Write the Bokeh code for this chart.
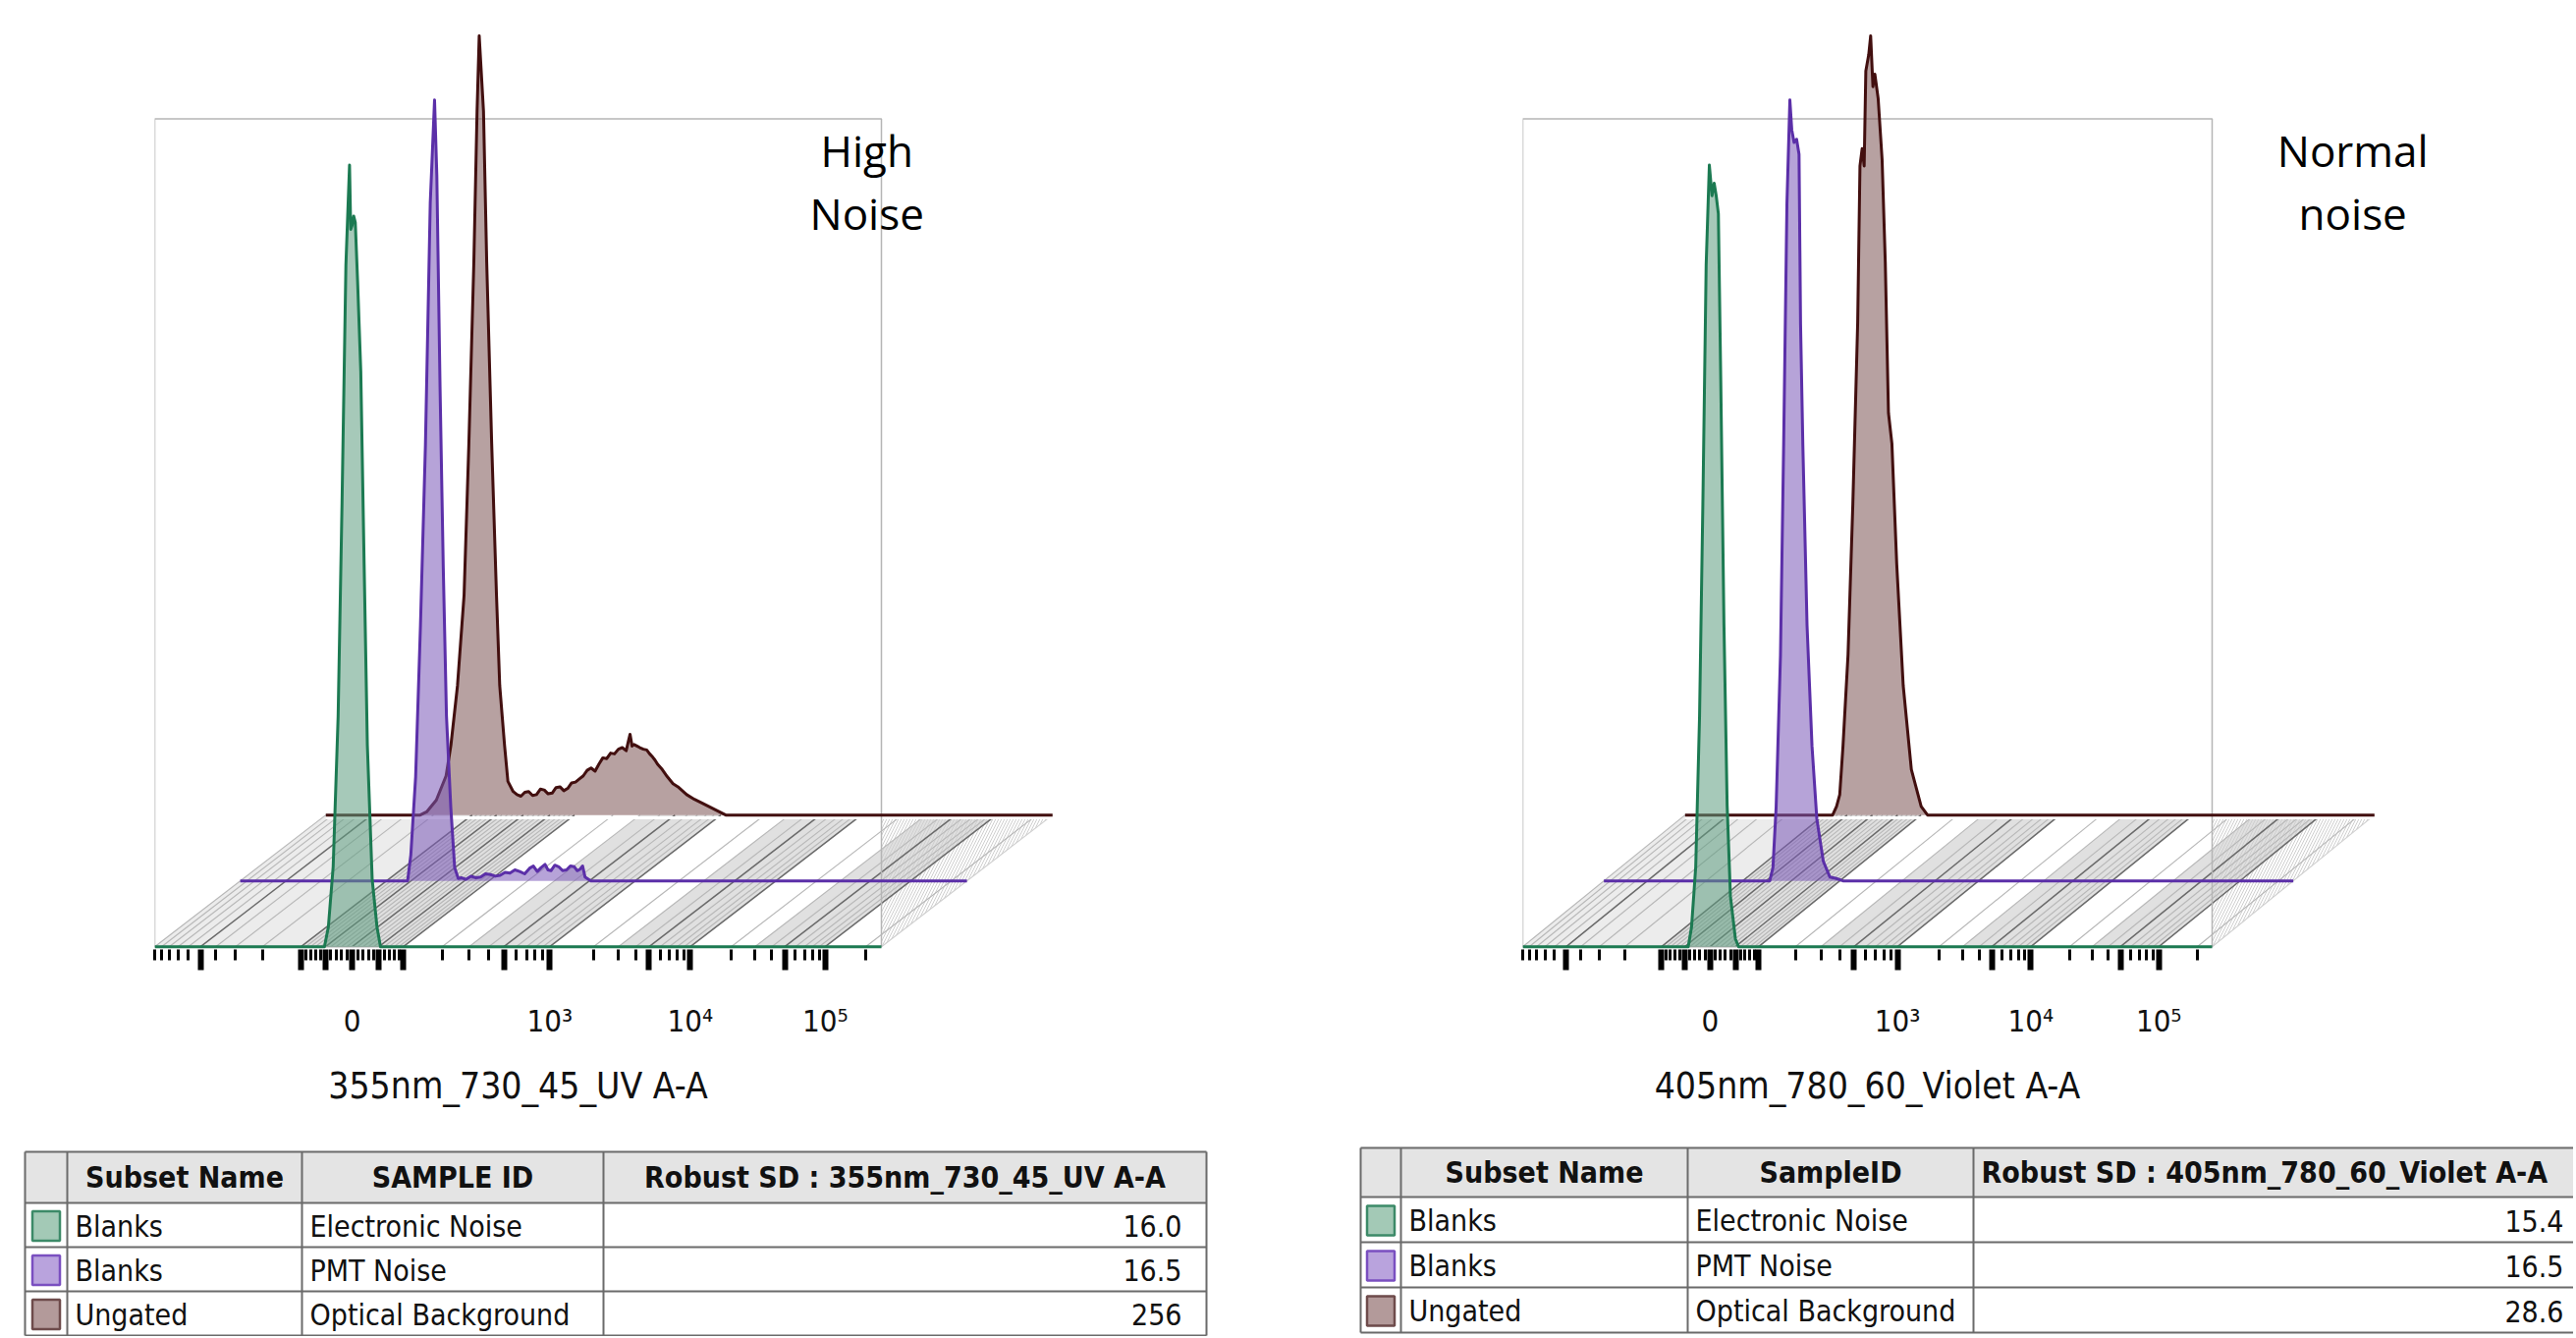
import numpy as np
from bokeh.plotting import figure
from bokeh.models import Range1d, FixedTicker, Label, LinearAxis
from bokeh.layouts import column, row
from bokeh.embed import file_html
from bokeh.resources import INLINE
from bokeh.core.properties import value

# ------------------------------------------------------------------ data
# x axis: FlowJo-style logicle (biexponential) scale, in fluorescence units
AXIS_MIN = -1000
AXIS_MAX = 262144
LOGICLE_P = 2.63
LOGICLE_K = 29.65
MAJOR_TICKS = [-500, -100, -50, 0, 50, 100, 500, 1000, 5000, 10000, 50000, 100000]
MINOR_TICKS = [-1000, -900, -800, -700, -600, -400, -300, -200,
               -90, -80, -70, -60, -40, -30, -20, -10, 10, 20, 30, 40, 60, 70, 80, 90,
               200, 300, 400, 600, 700, 800, 900,
               2000, 3000, 4000, 6000, 7000, 8000, 9000,
               20000, 30000, 40000, 60000, 70000, 80000, 90000, 200000]
TICK_LABELS = {0: "0", 1000: "10³", 10000: "10⁴", 100000: "10⁵"}
FLOOR_BANDS = [(-1000, -100), (-100, 100), (300, 1000), (3000, 10000), (30000, 100000)]

SUBSET_NAMES = ["Blanks", "Blanks", "Ungated"]
SAMPLE_IDS = ["Electronic Noise", "PMT Noise", "Optical Background"]
ROBUST_SD_355 = ["16.0", "16.5", "256"]
ROBUST_SD_405 = ["15.4", "16.5", "28.6"]
HEADERS_355 = ["Subset Name", "SAMPLE ID", "Robust SD : 355nm_730_45_UV A-A"]
HEADERS_405 = ["Subset Name", "SampleID", "Robust SD : 405nm_780_60_Violet A-A"]
AXIS_TITLE_355 = "355nm_730_45_UV A-A"
AXIS_TITLE_405 = "405nm_780_60_Violet A-A"

# histogram traces: x in display decades of the axis (0 = zero), y in % of mode
hi_electronic_x = [-0.207, -0.178, -0.142, -0.105, -0.076, -0.047, -0.020, -0.011, -0.001,
                   0.011, 0.023, 0.040, 0.064, 0.089, 0.113, 0.149, 0.185, 0.211]
hi_electronic_y = [0, 2.5, 10.2, 29.4, 56.5, 87.0, 99.7, 91.5, 92.0,
                   93.2, 92.4, 85.0, 73.4, 48.7, 25.7, 8.6, 2.5, 0]

hi_pmt_x = [-0.225, -0.201, -0.165, -0.129, -0.092, -0.056, -0.024, -0.007, 0.017, 0.041,
            0.065, 0.097, 0.126, 0.153, 0.175, 0.211, 0.247, 0.284, 0.320, 0.356,
            0.393, 0.429, 0.465, 0.502, 0.538, 0.575, 0.611, 0.648, 0.684, 0.713,
            0.742, 0.771, 0.800, 0.822, 0.844, 0.873, 0.902, 0.931, 0.960, 0.989,
            1.018, 1.040, 1.062, 1.080, 1.098, 1.142]
hi_pmt_y = [0, 3.3, 13.3, 32.6, 55.6, 86.5, 99.6, 90.0, 63.0, 40.0,
            21.0, 9.4, 1.7, 0.3, 0.4, 0.2, 0.6, 0.4, 0.5, 0.9,
            0.8, 0.6, 0.7, 1.1, 1.0, 1.4, 1.2, 0.9, 1.6, 1.9,
            1.2, 1.7, 2.1, 1.4, 1.3, 2.0, 1.8, 1.3, 1.4, 1.9,
            1.8, 1.3, 1.5, 1.9, 0.5, 0]

hi_optical_x = [-0.769, -0.721, -0.649, -0.576, -0.540, -0.491, -0.442, -0.406, -0.369, -0.345,
                -0.329, -0.297, -0.273, -0.236, -0.200, -0.176, -0.140, -0.115, -0.076, -0.047,
                -0.018, 0.011, 0.040, 0.069, 0.098, 0.127, 0.156, 0.185, 0.215, 0.244,
                0.273, 0.302, 0.331, 0.360, 0.389, 0.418, 0.447, 0.476, 0.505, 0.535,
                0.564, 0.593, 0.622, 0.651, 0.680, 0.709, 0.738, 0.767, 0.782, 0.796,
                0.811, 0.825, 0.847, 0.869, 0.895, 0.920, 0.942, 0.964, 0.982, 1.000,
                1.036, 1.073, 1.116, 1.153, 1.218, 1.276, 1.335, 1.393, 1.451, 1.509]
hi_optical_y = [0, 0.4, 1.9, 5.0, 8.9, 16.5, 28.0, 47.4, 70.5, 89.8,
                99.4, 89.8, 70.5, 47.4, 28.0, 16.5, 8.9, 4.3, 3.0, 2.6,
                2.4, 2.9, 3.0, 2.5, 2.6, 3.3, 3.2, 2.7, 2.8, 3.5,
                3.6, 3.1, 3.4, 4.1, 4.2, 4.6, 5.0, 5.7, 6.0, 5.6,
                6.5, 7.3, 7.2, 7.9, 7.8, 8.4, 8.6, 8.2, 9.3, 10.3,
                8.8, 9.0, 8.8, 8.6, 8.4, 8.3, 7.8, 7.4, 7.0, 6.5,
                5.8, 4.9, 4.0, 3.6, 2.6, 2.0, 1.5, 1.0, 0.5, 0]

norm_electronic_x = [-0.172, -0.146, -0.113, -0.083, -0.057, -0.031, -0.006, 0.015, 0.032,
                     0.048, 0.065, 0.084, 0.109, 0.134, 0.160, 0.199, 0.224]
norm_electronic_y = [0, 2.5, 10.2, 29.4, 56.5, 87.0, 99.7, 95.8, 97.4,
                     95.8, 93.5, 72.0, 41.0, 18.0, 6.4, 1.0, 0]

norm_pmt_x = [-0.169, -0.144, -0.119, -0.085, -0.060, -0.034, -0.011, 0.004, 0.022, 0.042,
              0.061, 0.073, 0.091, 0.124, 0.163, 0.201, 0.252, 0.303, 0.354, 0.406]
norm_pmt_y = [0, 1.7, 9.4, 28.7, 55.6, 86.5, 99.6, 95.8, 94.2, 94.6,
              92.7, 71.0, 55.6, 32.6, 17.2, 7.9, 2.5, 0.5, 0.3, 0]

norm_optical_x = [-0.313, -0.282, -0.257, -0.231, -0.192, -0.154, -0.116, -0.098, -0.081,
                  -0.065, -0.052, -0.029, -0.014, 0.004, 0.019, 0.045, 0.076, 0.101, 0.126,
                  0.153, 0.191, 0.242, 0.306, 0.383, 0.433]
norm_optical_y = [0, 1.1, 2.6, 8.9, 20.4, 39.7, 62.8, 82.8, 85.0,
                  82.8, 94.9, 97.0, 99.4, 92.9, 94.5, 91.4, 83.6, 70.5, 51.3,
                  47.4, 32.0, 16.5, 5.8, 1.1, 0]

# ------------------------------------------------------------------ styles
LINE_COLORS = ["#1c7a52", "#5b2fa8", "#420f0f"]
FILL_COLORS = ["#5d9d80", "#7a58b8", "#7c5454"]
SWATCH_FILL = ["#a3c9b6", "#b9a3dd", "#b39a9a"]
SWATCH_LINE = ["#3c8a68", "#7a4fc0", "#6e4b4b"]
COND = "DejaVu Sans Condensed"

# ------------------------------------------------------------------ geometry
FIG_H = 1150
PLOT_TOP = 16
PLOT_BOTTOM = 184
PLOT_H = FIG_H - PLOT_TOP - PLOT_BOTTOM
PX_PER_PCT = 7.98
Y0 = -0.35
Y1 = Y0 + PLOT_H / PX_PER_PCT
DX = 0.638      # depth offset per layer, decades
DY = 8.4        # depth offset per layer, % of mode
FRAME_TOP = 105.6
NOTE_Y = [101.6, 93.6]
TABLE_H = 210

_YS = np.linspace(0.0, 6.0, 60001)
_S = LOGICLE_K * (10 ** _YS - LOGICLE_P ** 2 * 10 ** (-_YS / LOGICLE_P) + LOGICLE_P ** 2 - 1)


def logicle(v):
    a = np.asarray(v, dtype=float)
    return np.sign(a) * np.interp(np.abs(a), _S, _YS)


D_MIN = float(logicle(AXIS_MIN))
D_MAX = float(logicle(AXIS_MAX))


def make_panel(fig_w, left_border, frame_w, traces, note_lines, note_frac, axis_title):
    span = D_MAX - D_MIN
    ppd = frame_w / span
    plot_w = fig_w - left_border
    p = figure(width=fig_w, height=FIG_H,
               x_range=Range1d(D_MIN, D_MIN + plot_w / ppd),
               y_range=Range1d(Y0, Y1),
               output_backend="svg", toolbar_location=None,
               y_axis_location=None,
               min_border_left=left_border, min_border_right=0,
               min_border_top=PLOT_TOP, min_border_bottom=PLOT_BOTTOM)
    p.outline_line_color = None
    p.grid.visible = False
    p.background_fill_color = "white"

    oxb, oyb = 2 * DX, 2 * DY
    # floor bands
    bxs, bys, bcol = [], [], []
    for i, (v0, v1) in enumerate(FLOOR_BANDS):
        d0, d1 = (float(t) for t in logicle([v0, v1]))
        bxs.append([d0, d1, d1 + oxb, d0 + oxb])
        bys.append([0, 0, oyb, oyb])
        bcol.append("#ececec" if i == 0 else "#e0e0e0")
    p.patches(bxs, bys, fill_color=bcol, line_color=None)
    # floor beyond frame
    p.patch([D_MAX, D_MAX + oxb, D_MAX], [0, oyb, oyb], fill_color="white", fill_alpha=0.0,
            hatch_pattern="right_diagonal_line", hatch_color="#cfcfcf", hatch_scale=6,
            hatch_weight=1.0, line_color=None)
    # floor lines
    minor_d = [float(d) for d in logicle(MINOR_TICKS)]
    major_d = [float(d) for d in logicle(MAJOR_TICKS)]
    p.multi_line([[d, d + oxb] for d in minor_d], [[0, oyb]] * len(minor_d),
                 line_color="#b8b8b8", line_width=1.2)
    p.multi_line([[d, d + oxb] for d in major_d], [[0, oyb]] * len(major_d),
                 line_color="#6a6a6a", line_width=1.5)
    p.line([D_MAX, D_MAX + oxb], [0, oyb], line_color="#d0d0d0", line_width=1.2)
    p.line([D_MIN + oxb, D_MAX + oxb], [oyb - 0.35, oyb - 0.35], line_color="white", line_width=3)
    # frame
    p.quad(left=D_MIN, right=D_MAX, bottom=0, top=FRAME_TOP, fill_color=None,
           line_color="#b5b5b5", line_width=1.5)
    # layers, back to front
    for k in (2, 1, 0):
        xs, ys = traces[k]
        ox, oy = k * DX, k * DY
        px = np.asarray(xs) + ox
        py = np.asarray(ys) + oy
        p.patch(px, py, fill_color=FILL_COLORS[k], fill_alpha=0.55, line_color=None)
        lx = np.concatenate([[D_MIN], xs, [D_MAX]]) + ox
        ly = np.concatenate([[0], ys, [0]]) + oy
        p.line(lx, ly, line_color=LINE_COLORS[k], line_width=3, line_join="round")

    ax = p.xaxis[0]
    ticks = [round(d, 6) for d in major_d]
    ax.ticker = FixedTicker(ticks=ticks, minor_ticks=[round(d, 6) for d in minor_d])
    ax.major_label_overrides = {t: TICK_LABELS.get(v, "") for t, v in zip(ticks, MAJOR_TICKS)}
    ax.axis_line_color = None
    ax.major_tick_in = 0
    ax.major_tick_out = 21
    ax.major_tick_line_width = 6
    ax.major_tick_line_color = "black"
    ax.minor_tick_in = 0
    ax.minor_tick_out = 11
    ax.minor_tick_line_width = 3
    ax.minor_tick_line_color = "black"
    ax.major_label_text_font = COND
    ax.major_label_text_font_size = "31px"
    ax.major_label_text_color = "#111111"
    ax.major_label_standoff = 33

    # axis title, carried by a second axis centred under the frame
    centre = round((D_MIN + D_MAX) / 2, 6)
    ax2 = LinearAxis(ticker=FixedTicker(ticks=[centre], minor_ticks=[]),
                     major_label_overrides={centre: axis_title},
                     axis_line_color=None, major_tick_line_color=None,
                     minor_tick_line_color=None, major_tick_out=0, minor_tick_out=0,
                     major_tick_in=0, minor_tick_in=0,
                     major_label_standoff=24, major_label_text_font=COND,
                     major_label_text_font_size="37px", major_label_text_color="#111111")
    p.add_layout(ax2, "below")

    note_x = D_MIN + note_frac * span
    for i, line in enumerate(note_lines):
        p.add_layout(Label(x=note_x, y=NOTE_Y[i], text=line, text_align="center",
                           text_baseline="middle", text_font="Open Sans",
                           text_font_size="44px", text_color="black"))
    return p


def make_table(fig_w, cols, rows_y, headers, values, value_right, last_header_left=None):
    h = TABLE_H
    p = figure(width=fig_w, height=h, x_range=Range1d(0, fig_w), y_range=Range1d(h, 0),
               output_backend="svg", toolbar_location=None,
               x_axis_location=None, y_axis_location=None, min_border=0)
    p.outline_line_color = None
    p.grid.visible = False
    p.quad(left=cols[0], right=cols[-1], top=rows_y[0], bottom=rows_y[1],
           fill_color="#e4e4e4", line_color=None)
    xs = [[cols[0], cols[-1]] for _ in rows_y] + [[c, c] for c in cols]
    ys = [[y, y] for y in rows_y] + [[rows_y[0], rows_y[-1]] for _ in cols]
    p.multi_line(xs, ys, line_color="#6b6b6b", line_width=2)
    hy = (rows_y[0] + rows_y[1]) / 2
    head = dict(text_baseline="middle", text_font=value(COND), text_font_size=value("30px"),
                text_font_style="bold", text_color="#111111")
    n_centre = 3 if last_header_left is None else 2
    hx = [(cols[i] + cols[i + 1]) / 2 for i in range(1, 1 + n_centre)]
    p.text(hx, [hy] * n_centre, text=headers[:n_centre], text_align="center", **head)
    if last_header_left is not None:
        p.text([last_header_left], [hy], text=[headers[2]], text_align="left", **head)
    ry = [(rows_y[i] + rows_y[i + 1]) / 2 + 1 for i in range(1, 4)]
    sc = (cols[0] + cols[1]) / 2
    p.quad(left=[sc - 14] * 3, right=[sc + 14] * 3,
           top=[y - 15 for y in ry], bottom=[y + 15 for y in ry],
           fill_color=SWATCH_FILL, line_color=SWATCH_LINE, line_width=2.5)
    common = dict(text_baseline="middle", text_font=value(COND),
                  text_font_size=value("30px"), text_color="#111111")
    p.text([cols[1] + 8] * 3, ry, text=SUBSET_NAMES, text_align="left", **common)
    p.text([cols[2] + 8] * 3, ry, text=SAMPLE_IDS, text_align="left", **common)
    p.text([value_right] * 3, ry, text=values, text_align="right", **common)
    return p


hi_traces = [(hi_electronic_x, hi_electronic_y), (hi_pmt_x, hi_pmt_y), (hi_optical_x, hi_optical_y)]
norm_traces = [(norm_electronic_x, norm_electronic_y), (norm_pmt_x, norm_pmt_y),
               (norm_optical_x, norm_optical_y)]

left = make_panel(1160, 157, 740, hi_traces, ["High", "Noise"], 0.98, AXIS_TITLE_355)
right = make_panel(1460, 390, 702, norm_traces, ["Normal", "noise"], 1.204, AXIS_TITLE_405)

tab_left = make_table(1380, [25, 68, 307, 614, 1228], [22, 74, 119, 164, 209],
                      HEADERS_355, ROBUST_SD_355, 1203)
tab_right = make_table(1240, [5, 46, 338, 629, 1258], [18, 68, 114, 160, 206],
                       HEADERS_405, ROBUST_SD_405, 1230, last_header_left=637)

layout = column(row(left, right), row(tab_left, tab_right))

with open("out.html", "w") as f:
    f.write(file_html(layout, INLINE))
